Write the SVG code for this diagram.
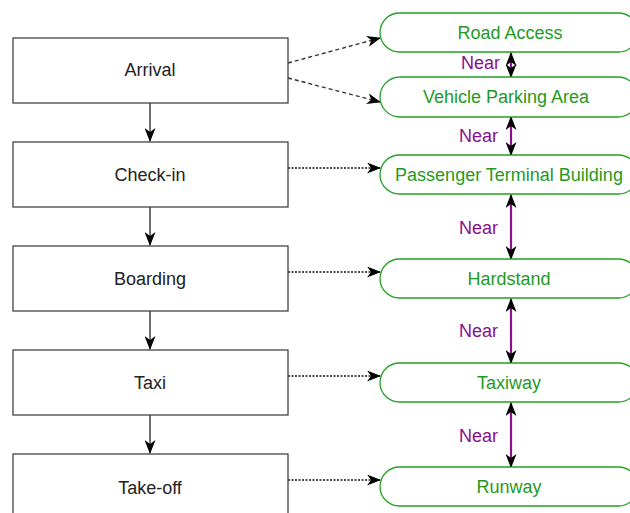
<svg xmlns="http://www.w3.org/2000/svg" width="630" height="513" viewBox="0 0 630 513">
<style>
.box{fill:#fff;stroke:#444;stroke-width:1.3}
.loc{fill:#fff;stroke:#23a023;stroke-width:1.3}
.t{font-family:"Liberation Sans",Arial,sans-serif;font-size:18px;text-anchor:middle;dominant-baseline:central}
.tb{fill:#222}
.tg{fill:#1f9a1f}
.near{font-family:"Liberation Sans",Arial,sans-serif;font-size:18px;fill:#8b108b;text-anchor:end;dominant-baseline:central}
.flow{stroke:#222;stroke-width:1.3;fill:none}
.dash{stroke:#333;stroke-width:1.4;fill:none;stroke-dasharray:4 3}
.dot{stroke:#111;stroke-width:1.3;fill:none;stroke-dasharray:2 1.5}
.nl{stroke:#8b108b;stroke-width:2.2;fill:none}
</style>
<defs>
<marker id="ah" viewBox="0 0 14 11" refX="13" refY="5.5" markerWidth="14" markerHeight="11" markerUnits="userSpaceOnUse" orient="auto">
<path d="M0,0 L14,5.5 L0,11 L4,5.5 Z" fill="#000"/>
</marker>
<marker id="ahs" viewBox="0 0 14 11" refX="13" refY="5.5" markerWidth="14" markerHeight="11" markerUnits="userSpaceOnUse" orient="auto-start-reverse">
<path d="M0,0 L14,5.5 L0,11 L4,5.5 Z" fill="#000"/>
</marker>
</defs>
<g id="connectors">
<line class="flow" x1="150" y1="103" x2="150" y2="141" marker-end="url(#ah)"/>
<line class="flow" x1="150" y1="207" x2="150" y2="245" marker-end="url(#ah)"/>
<line class="flow" x1="150" y1="311" x2="150" y2="349" marker-end="url(#ah)"/>
<line class="flow" x1="150" y1="415" x2="150" y2="453" marker-end="url(#ah)"/>
<line class="dash" x1="288" y1="63" x2="380" y2="38" marker-end="url(#ah)"/>
<line class="dash" x1="288" y1="78" x2="380" y2="102" marker-end="url(#ah)"/>
<line class="dot" x1="288" y1="168" x2="380" y2="168" marker-end="url(#ah)"/>
<line class="dot" x1="288" y1="272" x2="380" y2="272" marker-end="url(#ah)"/>
<line class="dot" x1="288" y1="376" x2="380" y2="376" marker-end="url(#ah)"/>
<line class="dot" x1="288" y1="480" x2="380" y2="480" marker-end="url(#ah)"/>
<line class="nl" x1="511" y1="53" x2="511" y2="77" marker-start="url(#ahs)" marker-end="url(#ah)"/>
<line class="nl" x1="511" y1="117" x2="511" y2="155" marker-start="url(#ahs)" marker-end="url(#ah)"/>
<line class="nl" x1="511" y1="195" x2="511" y2="259" marker-start="url(#ahs)" marker-end="url(#ah)"/>
<line class="nl" x1="511" y1="299" x2="511" y2="363" marker-start="url(#ahs)" marker-end="url(#ah)"/>
<line class="nl" x1="511" y1="403" x2="511" y2="467" marker-start="url(#ahs)" marker-end="url(#ah)"/>
<text class="near" x="500" y="63">Near</text>
<text class="near" x="498" y="136">Near</text>
<text class="near" x="498" y="228">Near</text>
<text class="near" x="498" y="331">Near</text>
<text class="near" x="498" y="436">Near</text>
</g>
<g id="arrival"><rect class="box" x="13" y="38" width="275" height="65"/><text class="t tb" x="150" y="70">Arrival</text></g>
<g id="checkin"><rect class="box" x="13" y="142" width="275" height="65"/><text class="t tb" x="150" y="175">Check-in</text></g>
<g id="boarding"><rect class="box" x="13" y="246" width="275" height="65"/><text class="t tb" x="150" y="279">Boarding</text></g>
<g id="taxi"><rect class="box" x="13" y="350" width="275" height="65"/><text class="t tb" x="150" y="383">Taxi</text></g>
<g id="takeoff"><rect class="box" x="13" y="454" width="275" height="65"/><text class="t tb" x="150" y="488">Take-off</text></g>
<g id="road-access"><rect class="loc" x="380" y="13" width="258" height="39" rx="19.5"/><text class="t tg" x="510" y="33">Road Access</text></g>
<g id="vehicle-parking"><rect class="loc" x="380" y="77" width="258" height="40" rx="20"/><text class="t tg" x="506" y="97">Vehicle Parking Area</text></g>
<g id="terminal"><rect class="loc" x="380" y="155" width="258" height="39" rx="19.5"/><text class="t tg" x="509" y="175">Passenger Terminal Building</text></g>
<g id="hardstand"><rect class="loc" x="380" y="259" width="258" height="39" rx="19.5"/><text class="t tg" x="509" y="279">Hardstand</text></g>
<g id="taxiway"><rect class="loc" x="380" y="363" width="258" height="39" rx="19.5"/><text class="t tg" x="509" y="383">Taxiway</text></g>
<g id="runway"><rect class="loc" x="380" y="467" width="258" height="39" rx="19.5"/><text class="t tg" x="509" y="487">Runway</text></g>
</svg>
